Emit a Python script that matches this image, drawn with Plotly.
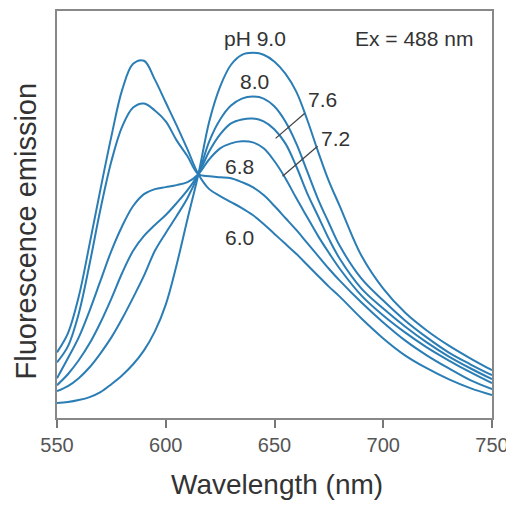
import plotly.graph_objects as go

wavelength = [550, 555, 560, 565, 570, 575, 580, 585, 590, 595, 600, 605, 610, 615,
              620, 625, 630, 635, 640, 645, 650, 655, 660, 665, 670, 675, 680,
              690, 700, 710, 720, 730, 740, 750]

ph_6_0 = [66, 85, 122, 175, 230, 283, 330, 356, 359, 340, 317, 294, 270, 245,
          230, 223, 217, 211, 204, 195, 185, 175, 165, 154, 143, 132, 122,
          100, 80, 63, 50, 39, 30, 23]
ph_6_8 = [56, 72, 105, 155, 210, 258, 293, 312, 316, 309, 298, 279, 263, 245,
          243, 242, 241, 237, 232, 224, 213, 201, 189, 176, 163, 150, 138,
          116, 96, 78, 63, 50, 38, 29]
ph_7_2 = [40, 60, 81, 108, 138, 168, 193, 213, 225, 230, 232, 234, 237, 245,
          260, 271, 276, 278, 277, 271, 258, 241, 221, 202, 183, 166, 150,
          123, 103, 86, 71, 58, 46, 35]
ph_7_6 = [33, 44, 58, 75, 96, 120, 146, 168, 183, 194, 204, 216, 229, 245,
          268, 285, 296, 300, 301, 298, 290, 276, 253, 226, 203, 180, 160,
          130, 110, 92, 76, 62, 50, 39]
ph_8_0 = [27, 32, 40, 51, 65, 81, 100, 121, 143, 168, 186, 203, 221, 245,
          278, 300, 314, 321, 323, 321, 313, 298, 276, 248, 220, 196, 173,
          140, 118, 98, 81, 66, 54, 43]
ph_9_0 = [15, 16, 18, 21, 26, 34, 43, 54, 68, 87, 114, 154, 200, 245,
          298, 333, 355, 365, 367, 365, 358, 346, 328, 300, 268, 238, 213,
          163, 130, 106, 88, 73, 60, 48]

series = {"6.0": ph_6_0, "6.8": ph_6_8, "7.2": ph_7_2,
          "7.6": ph_7_6, "8.0": ph_8_0, "9.0": ph_9_0}

x_ticks = [550, 600, 650, 700, 750]

# label text, x (nm), y (a.u.)
labels = [("pH 9.0", 641, 381), ("8.0", 641, 338), ("7.6", 672, 320),
          ("7.2", 678, 281), ("6.8", 634, 253), ("6.0", 634, 181),
          ("Ex = 488 nm", 714, 381)]
# leader lines: (x0, y0, x1, y1)
leaders = [(650.5, 281, 663.8, 306), (653.7, 243, 669.8, 273)]

LINE = "#2a7db5"
FONT = "Liberation Sans, Arial, sans-serif"

fig = go.Figure()
for name, vals in series.items():
    fig.add_trace(go.Scatter(x=wavelength, y=vals, mode="lines", name="pH " + name,
                             line=dict(color=LINE, width=2, shape="spline", smoothing=1.0),
                             showlegend=False, hoverinfo="skip"))

for x0, y0, x1, y1 in leaders:
    fig.add_trace(go.Scatter(x=[x0, x1], y=[y0, y1], mode="lines",
                             line=dict(color="#444444", width=1.3),
                             showlegend=False, hoverinfo="skip"))

annotations = []
for text, x, y in labels:
    annotations.append(dict(x=x, y=y, xref="x", yref="y", text=text, showarrow=False,
                            font=dict(family=FONT, size=21, color="#333333"),
                            xanchor="center", yanchor="middle"))

annotations.append(dict(x=0.506, y=-0.12, xref="paper", yref="paper",
                        text="Wavelength (nm)", showarrow=False,
                        font=dict(family=FONT, size=28, color="#333333"),
                        xanchor="center", yanchor="top"))
annotations.append(dict(x=-0.072, y=0.46, xref="paper", yref="paper",
                        text="Fluorescence emission", showarrow=False, textangle=-90,
                        font=dict(family=FONT, size=29, color="#333333"),
                        xanchor="center", yanchor="middle"))

# page body has an 8px margin, so the figure is shifted by 8px
fig.update_layout(
    width=506, height=492,
    margin=dict(l=49, r=22, t=1, b=82),
    paper_bgcolor="white", plot_bgcolor="white",
    annotations=annotations,
    font=dict(family=FONT),
)
fig.update_xaxes(range=[550, 750], tickvals=x_ticks, ticks="outside", ticklen=8,
                 tickcolor="#777777", tickwidth=1.5, ticklabeloverflow="allow",
                 showline=True, linecolor="#888888", linewidth=1.5, mirror=True,
                 showgrid=False, zeroline=False,
                 tickfont=dict(family=FONT, size=20, color="#555555"))
fig.update_yaxes(range=[0, 409], showticklabels=False, ticks="",
                 showline=True, linecolor="#888888", linewidth=1.5, mirror=True,
                 showgrid=False, zeroline=False)

fig.write_html("out.html", config={"displayModeBar": False})
